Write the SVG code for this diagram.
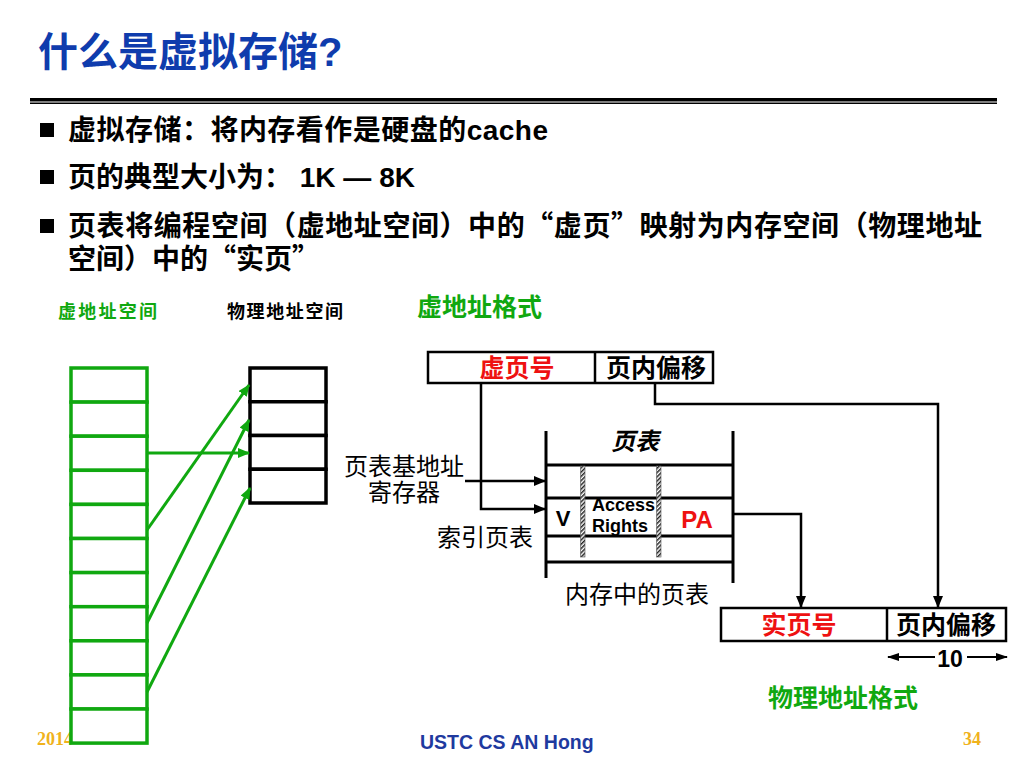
<svg xmlns="http://www.w3.org/2000/svg" width="1024" height="768" viewBox="0 0 1024 768">
<style>
text{font-family:"Liberation Sans","Noto Sans CJK SC",sans-serif;fill:#000}
.cj{font-family:"Noto Sans CJK SC",sans-serif}
.bul{font-size:28px;font-weight:bold}
.lab{font-size:24px}
.bx{font-size:25px;font-weight:bold}
.grn{fill:#10a810}
.red{fill:#ee1111}
.gold{font-family:"Liberation Serif",serif;font-weight:bold;font-size:18px;fill:#f0b21c}
.vcell{fill:#fff;stroke:#10a810;stroke-width:3.5}
.pcell{fill:#fff;stroke:#000;stroke-width:3.5}
.ga{stroke:#10a810;stroke-width:3;fill:none;marker-end:url(#gah)}
.ka{stroke:#000;stroke-width:2.5;fill:none;marker-end:url(#kah)}
.kl{stroke:#000;stroke-width:2;fill:none;marker-end:url(#kah2)}
.box{fill:#fff;stroke:#000;stroke-width:2.5}
.pt{stroke:#000;stroke-width:3;fill:none}
.hb{fill:url(#hatch);stroke:#555;stroke-width:0.6}
</style>
<defs>
<marker id="gah" viewBox="0 0 12 10" refX="11" refY="5" markerWidth="12" markerHeight="10" markerUnits="userSpaceOnUse" orient="auto"><path d="M0,0 L12,5 L0,10 z" fill="#10a810"/></marker>
<marker id="kah" viewBox="0 0 12 10" refX="11" refY="5" markerWidth="12" markerHeight="10" markerUnits="userSpaceOnUse" orient="auto"><path d="M0,0 L12,5 L0,10 z" fill="#000"/></marker>
<marker id="kah2" viewBox="0 0 12 8" refX="11" refY="4" markerWidth="12" markerHeight="8" markerUnits="userSpaceOnUse" orient="auto"><path d="M0,0 L12,4 L0,8 z" fill="#000"/></marker>
<pattern id="hatch" width="3" height="3" patternUnits="userSpaceOnUse" patternTransform="rotate(45)"><rect width="3" height="3" fill="#fff"/><rect width="1.5" height="3" fill="#222"/></pattern>
</defs>

<g id="header">
<text x="38" y="66" font-size="40" font-weight="bold" style="fill:#0f3cad">什么是虚拟存储?</text>
<rect x="30" y="98" width="967" height="3.5" fill="#000"/>
<rect x="30" y="102.5" width="967" height="1.5" fill="#000"/>
</g>

<g id="bullets">
<rect x="40" y="123" width="14" height="14" fill="#000"/>
<text class="bul" x="68" y="140" textLength="480" lengthAdjust="spacing">虚拟存储：将内存看作是硬盘的cache</text>
<rect x="40" y="170" width="14" height="14" fill="#000"/>
<text class="bul" x="68" y="187">页的典型大小为：  1K — 8K</text>
<rect x="40" y="219" width="14" height="14" fill="#000"/>
<text class="bul cj" x="68" y="236" textLength="914" lengthAdjust="spacing">页表将编程空间（虚地址空间）中的“虚页”映射为内存空间（物理地址</text>
<text class="bul cj" x="68" y="269">空间）中的“实页”</text>
</g>

<g id="footer">
<text class="gold" x="37" y="745">2014</text>
<text x="420" y="749" font-size="19.5" font-weight="bold" style="fill:#1f3a9f">USTC CS AN Hong</text>
<text class="gold" x="963" y="745">34</text>
</g>

<g id="labels">
<text class="grn" x="58" y="318" font-size="18" font-weight="bold" textLength="99" lengthAdjust="spacing">虚地址空间</text>
<text x="227" y="318" font-size="18" font-weight="bold" textLength="116" lengthAdjust="spacing">物理地址空间</text>
<text class="grn" x="417" y="316" font-size="25" font-weight="bold">虚地址格式</text>
<text class="grn" x="768" y="707" font-size="25" font-weight="bold">物理地址格式</text>
</g>

<g id="virtual-space">
<rect class="vcell" x="71" y="368" width="76" height="34.1"/>
<rect class="vcell" x="71" y="402.1" width="76" height="34.1"/>
<rect class="vcell" x="71" y="436.2" width="76" height="34.1"/>
<rect class="vcell" x="71" y="470.3" width="76" height="34.1"/>
<rect class="vcell" x="71" y="504.4" width="76" height="34.1"/>
<rect class="vcell" x="71" y="538.5" width="76" height="34.1"/>
<rect class="vcell" x="71" y="572.6" width="76" height="34.1"/>
<rect class="vcell" x="71" y="606.7" width="76" height="34.1"/>
<rect class="vcell" x="71" y="640.8" width="76" height="34.1"/>
<rect class="vcell" x="71" y="674.9" width="76" height="34.1"/>
<rect class="vcell" x="71" y="709" width="76" height="34.1"/>
</g>

<g id="physical-space">
<rect class="pcell" x="250" y="368" width="76" height="33.75"/>
<rect class="pcell" x="250" y="401.75" width="76" height="33.75"/>
<rect class="pcell" x="250" y="435.5" width="76" height="33.75"/>
<rect class="pcell" x="250" y="469.25" width="76" height="33.75"/>
</g>

<g id="va-format">
<rect class="box" x="428" y="352" width="285" height="31"/>
<line x1="595" y1="352" x2="595" y2="383" stroke="#000" stroke-width="2.5"/>
<text class="bx red" x="517" y="377" text-anchor="middle">虚页号</text>
<text class="bx" x="656" y="377" text-anchor="middle">页内偏移</text>
</g>

<g id="page-table">
<line class="pt" x1="546" y1="431" x2="546" y2="578"/>
<line class="pt" x1="733" y1="431" x2="733" y2="583"/>
<line class="pt" x1="546" y1="465" x2="733" y2="465"/>
<line class="pt" x1="546" y1="498" x2="733" y2="498"/>
<line class="pt" x1="546" y1="536" x2="733" y2="536"/>
<line class="pt" x1="546" y1="562" x2="733" y2="562"/>
<rect class="hb" x="580.5" y="466" width="4.5" height="91"/>
<rect class="hb" x="656.5" y="466" width="4.5" height="91"/>
<text x="635" y="450" font-size="24" font-weight="bold" font-style="italic" text-anchor="middle">页表</text>
<text x="563" y="526" font-size="22" font-weight="bold" text-anchor="middle">V</text>
<text x="592" y="511" font-size="18" font-weight="bold">Access</text>
<text x="592" y="532" font-size="18" font-weight="bold">Rights</text>
<text class="red" x="697" y="528" font-size="24" font-weight="bold" text-anchor="middle">PA</text>
<text class="lab" x="637" y="603" text-anchor="middle">内存中的页表</text>
</g>

<g id="ptbr-label">
<text class="lab" x="404" y="475" text-anchor="middle">页表基地址</text>
<text class="lab" x="404" y="501" text-anchor="middle">寄存器</text>
</g>
<g id="index-label">
<text class="lab" x="485" y="546" text-anchor="middle">索引页表</text>
</g>

<g id="pa-format">
<rect class="box" x="721" y="608" width="285" height="33"/>
<line x1="887" y1="608" x2="887" y2="641" stroke="#000" stroke-width="2.5"/>
<text class="bx red" x="799" y="634" text-anchor="middle">实页号</text>
<text class="bx" x="946" y="634" text-anchor="middle">页内偏移</text>
<text x="950" y="667" font-size="23" font-weight="bold" text-anchor="middle">10</text>
</g>

<g id="connectors">
<line class="ga" x1="147" y1="453" x2="249" y2="453"/>
<line class="ga" x1="147" y1="530" x2="249" y2="385"/>
<line class="ga" x1="147" y1="623" x2="249" y2="420"/>
<line class="ga" x1="147" y1="692" x2="250" y2="488"/>
<path class="ka" d="M481,383 V509 H545"/>
<path class="ka" d="M465,481 H545"/>
<path class="ka" d="M733,514 H801 V607"/>
<path class="ka" d="M655,383 V404 H938 V607"/>
<path class="kl" d="M935,657 H888"/>
<path class="kl" d="M967,657 H1007"/>
</g>
</svg>
